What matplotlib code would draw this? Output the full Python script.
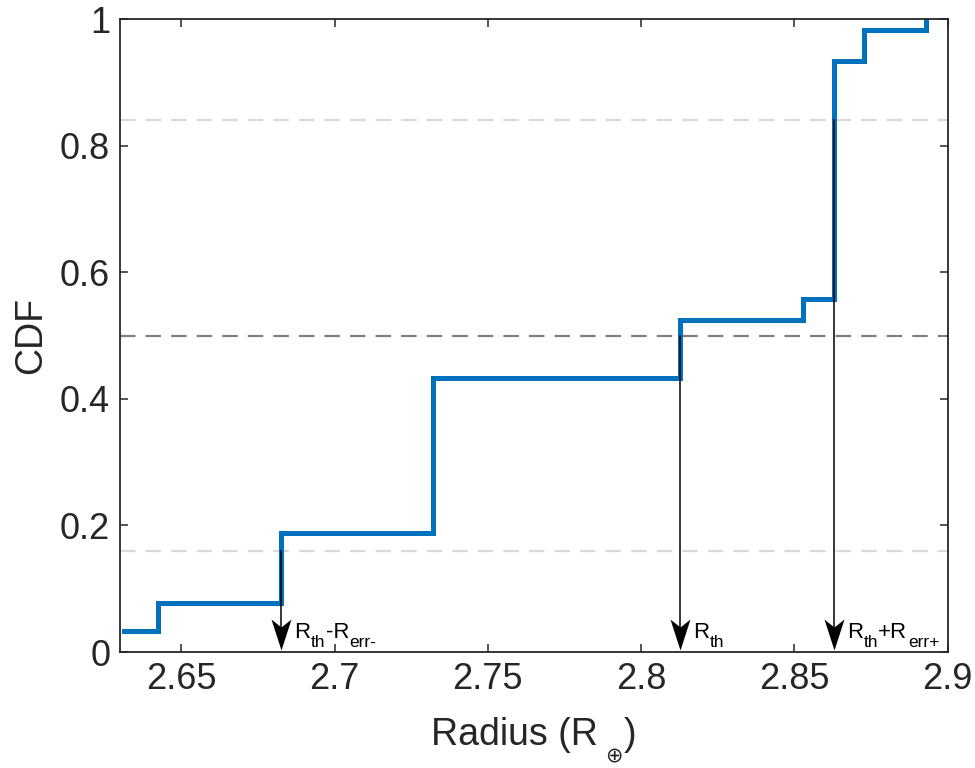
import numpy as np
import matplotlib
matplotlib.use("Agg")
import matplotlib.pyplot as plt
from matplotlib.path import Path

# Empirical CDF of the radius samples (step locations and cumulative levels)
radius_steps = [2.6313, 2.6424, 2.6825, 2.7321, 2.8126, 2.8527, 2.8628, 2.8726, 2.8928]
cdf_levels = [0.033, 0.077, 0.188, 0.433, 0.525, 0.558, 0.934, 0.983, 1.0]

# Reference CDF levels (16th / 50th / 84th percentiles)
pct_levels = [0.16, 0.5, 0.84]
pct_colors = ["#d9d9d9", "#808080", "#d9d9d9"]

# Radius value at each percentile; labels are (text, is_subscript) pieces
marker_radius = [2.6825, 2.8126, 2.8628]
marker_from = [0.16, 0.5, 0.84]
marker_labels = [
    [("R", False), ("th", True), ("-R", False), ("err-", True)],
    [("R", False), ("th", True)],
    [("R", False), ("th", True), ("+R", False), ("err+", True)],
]

xticks = [2.65, 2.7, 2.75, 2.8, 2.85, 2.9]
yticks = [0, 0.2, 0.4, 0.6, 0.8, 1.0]

plt.rcParams["font.family"] = ["Liberation Sans", "DejaVu Sans"]

fig = plt.figure(figsize=(9.75, 7.68), dpi=100)
ax = fig.add_axes([0.123, 0.151, 0.849, 0.824])

ink = "#262626"

# percentile guide lines
for lvl, col in zip(pct_levels, pct_colors):
    ax.axhline(lvl, color=col, lw=1.6, dashes=(7, 4.5), zorder=1)

# CDF staircase
ax.step(radius_steps, cdf_levels, where="post", color="#0072BD", lw=3.6,
        solid_joinstyle="miter", zorder=2)

# notched arrow head, tip at the origin, pointing down
head = Path([(0, 0), (-10, 31), (0, 23), (10, 31), (0, 0)],
            [Path.MOVETO, Path.LINETO, Path.LINETO, Path.LINETO, Path.CLOSEPOLY])

MAIN_FS, SUB_FS, SUB_DROP = 16, 12.5, -6.5
label_base = 0.022

for xr, y0, pieces in zip(marker_radius, marker_from, marker_labels):
    ax.plot([xr, xr], [y0, 0.03], color="black", lw=1.1, zorder=3)
    ax.plot([xr], [0.004], marker=head, ms=44.6, color="black", mew=0, zorder=4)
    prev = None
    for txt, is_sub in pieces:
        fs = SUB_FS if is_sub else MAIN_FS
        dy = SUB_DROP if is_sub else 0
        if prev is None:
            prev = ax.annotate(txt, xy=(xr, label_base), xytext=(9.5, dy),
                               textcoords="offset points", fontsize=fs,
                               ha="left", va="baseline", zorder=5)
        else:
            prev = ax.annotate(txt, xy=(1, label_base), xycoords=(prev, "data"),
                               xytext=(0.3, dy), textcoords="offset points",
                               fontsize=fs, ha="left", va="baseline", zorder=5,
                               annotation_clip=False)

ax.set_xlim(2.63, 2.9)
ax.set_ylim(0, 1)
ax.set_xticks(xticks)
ax.set_yticks(yticks)
ax.set_xticklabels([f"{v:g}" for v in xticks])
ax.set_yticklabels([f"{v:g}" for v in yticks])

ax.tick_params(axis="both", which="both", direction="in", length=6, width=1.1,
               color=ink, labelcolor=ink, labelsize=26, top=True, right=True, pad=7)
for sp in ax.spines.values():
    sp.set_color(ink)
    sp.set_linewidth(1.3)

ax.set_ylabel("CDF", fontsize=27, color=ink, labelpad=8)

# x-axis title built from pieces so the Earth symbol sits as a low subscript
xl_base = 1 - 745 / 768
xl_main = fig.text(0.5, xl_base, "Radius (R", fontsize=27, color=ink,
                   ha="left", va="baseline")
xl_sym = ax.annotate("\u2295", xy=(1, xl_base), xycoords=(xl_main, "figure fraction"),
                     xytext=(5, -11.5), textcoords="offset points", fontsize=15,
                     color=ink, ha="left", va="baseline", annotation_clip=False,
                     family="DejaVu Sans")
xl_end = ax.annotate(")", xy=(1, xl_base), xycoords=(xl_sym, "figure fraction"),
                     xytext=(0.5, 0), textcoords="offset points", fontsize=27,
                     color=ink, ha="left", va="baseline", annotation_clip=False)

# centre the assembled title under the axes
renderer = fig.canvas.get_renderer()
fig.canvas.draw()
left = xl_main.get_window_extent(renderer).x0
right = xl_end.get_window_extent(renderer).x1
target = (ax.get_window_extent(renderer).x0 + ax.get_window_extent(renderer).x1) / 2
shift = target - (left + right) / 2
xl_main.set_x(0.5 + shift / fig.bbox.width)

fig.savefig("out.png", dpi=100)
